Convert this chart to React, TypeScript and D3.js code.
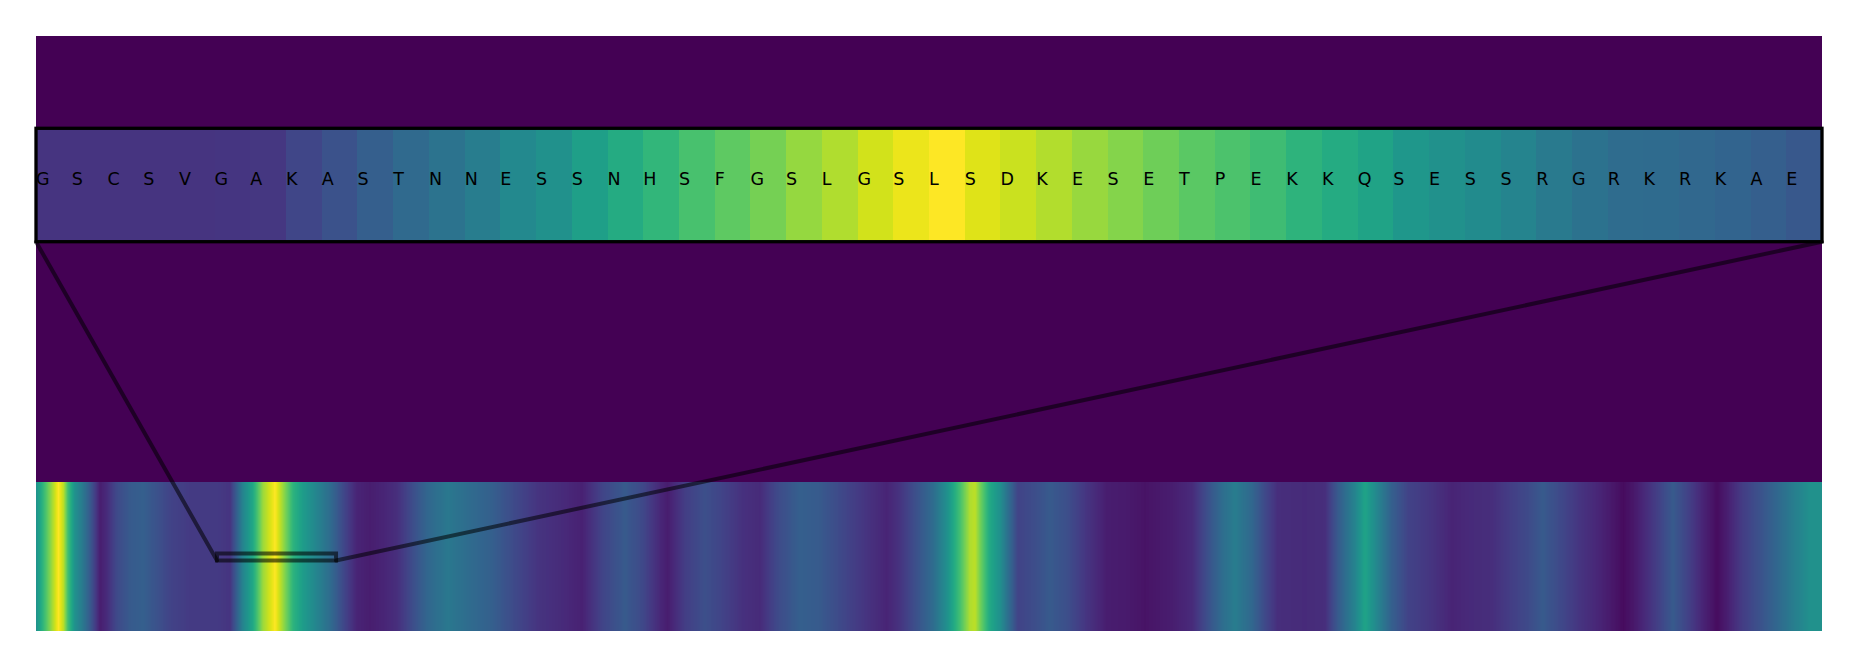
import React, { useEffect, useRef } from "react";
import * as d3 from "d3";

// whole sequence: smoothed per-residue score
const seqLength = 750;
const profileResidues = [
  0, 3.8, 6.6, 9.4, 11.5, 13.4, 16.4, 19.7, 23.4, 26.9, 29.7, 33.9, 39.5, 45, 50.7, 56.3,
  64.7, 75.9, 81.5, 84.3, 86.9, 91.1, 95.3, 100.4, 103.7, 107.9, 112.1, 117.9, 123.5, 128.9,
  134.7, 140.3, 145.7, 151.5, 159.2, 164.6, 173, 181.4, 191.5, 201.1, 210.8, 220.9, 229.3,
  237.7, 247.3, 254.5, 262.9, 265.4, 272.5, 280.9, 288.1, 296.5, 304, 311.2, 320.8, 329.2,
  340.6, 350.2, 357.4, 362.8, 370, 376.7, 382.6, 388, 392.2, 394.3, 397.3, 400.6, 404.8, 409,
  412.4, 418.7, 425.8, 432.9, 441.3, 449.7, 458.1, 465.7, 477, 485.4, 490.9, 498, 503.5,
  510.6, 516.1, 521.5, 532.9, 541.3, 546.7, 553.9, 558.1, 562.3, 569.4, 576.1, 586.2, 594.6,
  603, 611.4, 619, 626.1, 632.8, 640, 648.4, 656.8, 666.5, 670.7, 676.6, 682, 687.5, 693.3,
  700, 705.9, 710.1, 716.8, 724, 731.2, 737.9, 745, 750,
];
const profileScores = [
  0.5, 0.7, 0.85, 1.0, 0.9, 0.7, 0.5, 0.4, 0.25, 0.08, 0.12, 0.22, 0.28, 0.3, 0.25, 0.2,
  0.17, 0.17, 0.15, 0.3, 0.45, 0.6, 0.85, 1.0, 0.85, 0.65, 0.55, 0.45, 0.35, 0.22,
  0.1, 0.08, 0.1, 0.13, 0.25, 0.33, 0.4, 0.35, 0.3, 0.22, 0.15, 0.12, 0.09,
  0.2, 0.28, 0.22, 0.1, 0.08, 0.18, 0.24, 0.2, 0.14, 0.12, 0.22, 0.3, 0.28,
  0.2, 0.14, 0.1, 0.15, 0.25, 0.35, 0.5, 0.7, 0.88, 0.9, 0.75, 0.6, 0.5, 0.33,
  0.2, 0.23, 0.28, 0.24, 0.15, 0.08, 0.07, 0.05, 0.08, 0.12, 0.22, 0.35, 0.42,
  0.33, 0.22, 0.13, 0.12, 0.13, 0.28, 0.45, 0.58, 0.48, 0.3, 0.2, 0.15, 0.1,
  0.12, 0.13, 0.18, 0.22, 0.28, 0.22, 0.15, 0.1, 0.03, 0.06, 0.13, 0.2, 0.28, 0.2,
  0.1, 0.03, 0.08, 0.18, 0.25, 0.33, 0.42, 0.5, 0.5,
];

// zoomed window
const windowStart = 76;
const windowResidues = [
  "G", "S", "C", "S", "V", "G", "A", "K", "A", "S", "T", "N", "N", "E", "S", "S", "N",
  "H", "S", "F", "G", "S", "L", "G", "S", "L", "S", "D", "K", "E", "S", "E", "T", "P",
  "E", "K", "K", "Q", "S", "E", "S", "S", "R", "G", "R", "K", "R", "K", "A", "E",
];
const windowScores = [
  0.15, 0.15, 0.15, 0.15, 0.15, 0.155, 0.16, 0.21, 0.25, 0.3, 0.34, 0.38, 0.42, 0.47, 0.5,
  0.56, 0.61, 0.66, 0.71, 0.75, 0.79, 0.84, 0.88, 0.93, 0.97, 1.0, 0.95, 0.92, 0.885, 0.845,
  0.815, 0.78, 0.745, 0.715, 0.69, 0.645, 0.61, 0.58, 0.53, 0.5, 0.48, 0.45, 0.41, 0.375,
  0.35, 0.345, 0.335, 0.32, 0.3, 0.27,
];

const App = () => {
  const ref = useRef<SVGSVGElement>(null);

  useEffect(() => {
    drawChart();
  }, []);

  const drawChart = () => {
    const width = 1857;
    const height = 667;
    const left = 36;
    const right = 1822;
    const top = 36;
    const bottom = 631;
    const stripTop = 482;
    const insetTop = 128.3;
    const insetBottom = 241.7;
    const boxTop = 553.5;
    const boxBottom = 560.5;

    const svg = d3.select(ref.current).attr("width", width).attr("height", height);
    svg.selectAll("*").remove();

    const color = d3.scaleSequential(d3.interpolateViridis).domain([0, 1]);

    // axes background (lowest value of the colormap)
    svg
      .append("rect")
      .attr("x", left)
      .attr("y", top)
      .attr("width", right - left)
      .attr("height", bottom - top)
      .attr("fill", color(0));

    // lower strip: the whole sequence, smoothly interpolated like imshow(bilinear)
    const x = d3.scaleLinear().domain([0, seqLength]).range([left, right]);
    const profile = d3.scaleLinear().domain(profileResidues).range(profileScores).clamp(true);
    svg
      .append("g")
      .selectAll("rect")
      .data(d3.range(left, right))
      .enter()
      .append("rect")
      .attr("x", (d) => d)
      .attr("y", stripTop)
      .attr("width", 1)
      .attr("height", bottom - stripTop)
      .attr("fill", (d) => color(profile(x.invert(d + 0.5))))
      .attr("shape-rendering", "crispEdges");

    // box marking the zoomed window
    const windowEnd = windowStart + windowResidues.length;
    svg
      .append("rect")
      .attr("x", x(windowStart))
      .attr("y", boxTop)
      .attr("width", x(windowEnd) - x(windowStart))
      .attr("height", boxBottom - boxTop)
      .attr("fill", "none")
      .attr("stroke", "black")
      .attr("stroke-opacity", 0.58)
      .attr("stroke-width", 4);

    // connector lines
    const connectors = [
      [left, insetBottom, x(windowStart), boxBottom],
      [right, insetBottom, x(windowEnd), boxBottom],
    ];
    svg
      .append("g")
      .selectAll("line")
      .data(connectors)
      .enter()
      .append("line")
      .attr("x1", (d) => d[0])
      .attr("y1", (d) => d[1])
      .attr("x2", (d) => d[2])
      .attr("y2", (d) => d[3])
      .attr("stroke", "black")
      .attr("stroke-opacity", 0.55)
      .attr("stroke-width", 4)
      .attr("stroke-linecap", "round");

    // inset: one cell per residue
    const band = d3
      .scaleBand<number>()
      .domain(d3.range(windowResidues.length))
      .range([left, right]);
    const inset = svg.append("g");
    inset
      .selectAll("rect.cell")
      .data(windowScores)
      .enter()
      .append("rect")
      .attr("class", "cell")
      .attr("x", (d, i) => band(i) as number)
      .attr("y", insetTop)
      .attr("width", band.bandwidth() + 0.5)
      .attr("height", insetBottom - insetTop)
      .attr("fill", (d) => color(d))
      .attr("shape-rendering", "crispEdges");

    inset
      .selectAll("text")
      .data(windowResidues)
      .enter()
      .append("text")
      .attr("x", (d, i) => band(i) as number)
      .attr("y", 185)
      .attr("text-anchor", "start")
      .attr("font-family", "DejaVu Sans")
      .attr("font-size", 17.5)
      .attr("fill", "black")
      .text((d) => d);

    inset
      .append("rect")
      .attr("x", left)
      .attr("y", insetTop)
      .attr("width", right - left)
      .attr("height", insetBottom - insetTop)
      .attr("fill", "none")
      .attr("stroke", "black")
      .attr("stroke-width", 3.3);
  };

  return (
    <div style={{ position: "absolute", left: 0, top: 0 }}>
      <svg ref={ref} style={{ display: "block" }}></svg>
    </div>
  );
};

export default App;
